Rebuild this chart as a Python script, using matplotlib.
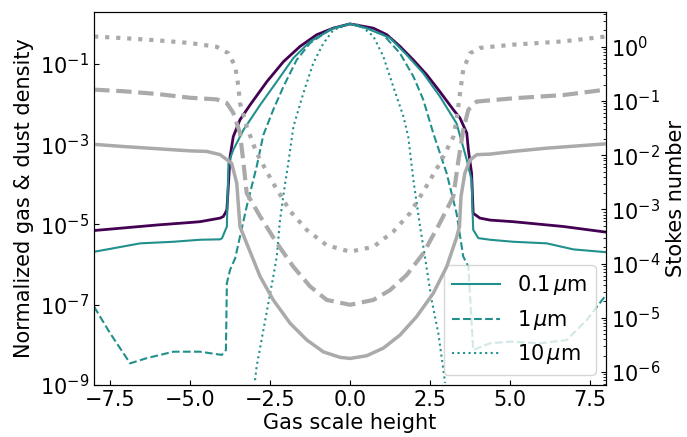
import numpy as np
import matplotlib.pyplot as plt
from matplotlib.ticker import FixedLocator, LogLocator, NullFormatter

# gas density (normalized): x in gas scale heights, log10 values
gas_x = [-8.0, -7.0, -6.0, -5.0, -4.69, -4.06, -3.96, -3.85, -3.75, -3.65, -3.44, -3.125, -2.60,
         -2.08, -1.56, -1.04, -0.52, 0.0, 0.73, 1.15, 1.56, 1.98, 2.40, 2.81, 3.23, 3.44, 3.65,
         3.70, 3.80, 3.85, 4.06, 4.375, 5.10, 6.67, 8.0]
gas_log = [-5.15, -5.08, -5.01, -4.95, -4.93, -4.84, -4.80, -4.64, -3.31, -2.81, -2.39, -2.02, -1.44,
           -0.94, -0.56, -0.27, -0.105, 0.0, -0.107, -0.27, -0.56, -0.90, -1.27, -1.69, -2.14, -2.35, -2.72,
           -3.14, -3.72, -4.72, -4.84, -4.89, -4.93, -5.05, -5.19]

# 0.1 micron dust
d01_x = [-8.0, -6.56, -5.52, -4.69, -4.06, -4.0, -3.85, -3.80, -3.65, -3.33, -2.81, -2.29, -1.77,
         -1.25, -0.52, 0.0, 0.52, 1.25, 1.77, 2.29, 2.81, 3.33, 3.65, 3.80, 3.85, 4.01, 4.375,
         5.10, 6.15, 6.98, 8.0]
d01_log = [-5.68, -5.47, -5.43, -5.38, -5.37, -5.34, -5.05, -3.47, -3.14, -2.64, -2.02, -1.44, -0.85,
           -0.44, -0.11, 0.0, -0.11, -0.35, -0.77, -1.23, -1.81, -2.48, -3.39, -3.89, -5.13, -5.34, -5.38,
           -5.43, -5.47, -5.62, -5.69]

# 1 micron dust
d1_x = [-8.0, -7.5, -6.875, -6.35, -5.52, -4.69, -4.01, -3.88, -3.85, -3.75, -3.59, -3.23, -2.92,
        -2.71, -2.40, -2.08, -1.67, -1.25, -0.6, 0.0, 0.6, 1.04, 1.56, 1.98, 2.29, 2.60, 3.02,
        3.33, 3.54, 3.65, 3.70, 3.85, 4.375, 5.0, 5.94, 6.77, 7.40, 8.0]
d1_log = [-7.05, -7.71, -8.46, -8.33, -8.17, -8.17, -8.25, -8.13, -6.46, -6.13, -5.84, -4.55, -3.56,
          -2.77, -2.14, -1.56, -0.90, -0.48, -0.13, 0.0, -0.13, -0.27, -0.73, -1.31, -1.89, -2.72, -3.72,
          -4.72, -5.80, -5.97, -6.05, -8.13, -7.96, -7.92, -7.96, -7.88, -7.38, -6.76]

# 10 micron dust
d10_x = [-2.97, -2.92, -2.66, -2.40, -2.29, -2.19, -2.08, -1.93, -1.77, -1.46, -1.15, -0.83, -0.52, 0.0,
         0.31, 0.73, 1.04, 1.35, 1.67, 1.82, 1.98, 2.19, 2.34, 2.55, 2.76, 2.92, 2.97]
d10_log = [-8.88, -8.54, -7.42, -6.30, -5.80, -4.90, -4.25, -3.47, -2.56, -1.73, -0.98, -0.48, -0.15, 0.0,
           -0.03, -0.31, -0.81, -1.56, -2.31, -2.81, -3.89, -5.05, -5.80, -6.88, -7.71, -8.63, -8.95]

# Stokes numbers (right axis), log10
st01_x = [-8.0, -7.08, -6.04, -5.0, -4.48, -4.06, -3.70, -3.54, -3.44, -3.125, -2.81, -2.40, -1.875,
          -1.35, -0.83, -0.31, 0.0, 0.52, 1.04, 1.56, 2.08, 2.60, 3.02, 3.33, 3.42, 3.47, 3.59, 3.75,
          3.96, 4.375, 5.10, 6.15, 8.0]
st01_log = [-1.80, -1.84, -1.88, -1.92, -1.93, -1.99, -2.15, -2.52, -3.32, -3.78, -4.24, -4.67, -5.10,
            -5.41, -5.63, -5.73, -5.75, -5.70, -5.56, -5.32, -4.98, -4.55, -4.06, -3.52, -3.32, -2.76, -2.33, -2.09,
            -1.99, -1.98, -1.93, -1.87, -1.79]

st1_x = [-8.0, -7.08, -6.04, -5.0, -4.17, -3.85, -3.65, -3.44, -3.33, -3.23, -2.81, -2.29, -1.77,
         -1.25, -0.73, 0.0, 0.73, 1.25, 1.77, 2.29, 2.81, 3.23, 3.39, 3.49, 3.54, 3.70,
         3.96, 5.10, 6.67, 8.0]
st1_log = [-0.79, -0.82, -0.87, -0.94, -0.97, -1.04, -1.22, -1.59, -2.15, -2.70, -3.13, -3.62, -4.06,
           -4.42, -4.67, -4.76, -4.67, -4.49, -4.21, -3.81, -3.25, -2.76, -2.09, -1.72, -1.53, -1.16,
           -1.01, -0.95, -0.89, -0.79]

st10_x = [-8.0, -7.08, -6.04, -5.0, -4.17, -3.80, -3.59, -3.49, -3.44, -3.23, -2.92, -2.40, -1.875,
          -1.35, -0.73, 0.0, 0.73, 1.35, 1.875, 2.29, 2.81, 3.23, 3.33, 3.44, 3.54, 3.75, 4.06, 5.10, 6.67, 8.0]
st10_log = [0.19, 0.16, 0.12, 0.07, 0.0, -0.12, -0.36, -0.73, -1.04, -1.47, -1.96, -2.52, -3.03,
            -3.38, -3.66, -3.78, -3.69, -3.41, -3.07, -2.67, -2.15, -1.66, -1.35, -0.85, -0.42, -0.12, -0.02,
            0.04, 0.10, 0.19]

teal = '#21908d'
purple = '#440154'
grey = '#aaaaaa'

plt.rcParams['font.size'] = 15

fig, ax = plt.subplots(figsize=(6.87, 4.37), dpi=100)
fig.subplots_adjust(left=0.137, right=0.882, bottom=0.119, top=0.973)

ax.plot(gas_x, 10**np.array(gas_log), color=purple, lw=2)
ax.plot(d01_x, 10**np.array(d01_log), color=teal, lw=1.5, ls='-', label=r'$0.1\,\mu$m')
ax.plot(d1_x, 10**np.array(d1_log), color=teal, lw=1.5, ls='--', label=r'$1\,\mu$m')
ax.plot(d10_x, 10**np.array(d10_log), color=teal, lw=1.5, ls=':', label=r'$10\,\mu$m')
ax.set_yscale('log')
ax.set_xlim(-8, 8)
ax.set_ylim(1e-9, 2)
ax.yaxis.set_major_locator(FixedLocator([1e-9, 1e-7, 1e-5, 1e-3, 1e-1]))
ax.yaxis.set_minor_locator(FixedLocator([]))
ax.set_xticks([-7.5, -5, -2.5, 0, 2.5, 5, 7.5])
ax.tick_params(direction='in')
ax.set_xlabel('Gas scale height', labelpad=2)
ax.set_ylabel('Normalized gas & dust density')
ax.legend(loc='lower right', handlelength=2.3)

ax2 = ax.twinx()
ax2.plot(st01_x, 10**np.array(st01_log), color=grey, lw=2.5, ls='-')
ax2.plot(st1_x, 10**np.array(st1_log), color=grey, lw=3, ls='--')
ax2.plot(st10_x, 10**np.array(st10_log), color=grey, lw=3, ls=':')
ax2.set_yscale('log')
ax2.set_ylim(10**-6.24, 10**0.646)
ax2.yaxis.set_major_locator(FixedLocator([1e-6, 1e-5, 1e-4, 1e-3, 1e-2, 1e-1, 1e0]))
ax2.yaxis.set_minor_locator(LogLocator(base=10, subs=np.arange(2, 10), numticks=20))
ax2.yaxis.set_minor_formatter(NullFormatter())
ax2.tick_params(which='both', direction='in')
ax2.set_ylabel('Stokes number')

fig.savefig('out.png', dpi=100)
